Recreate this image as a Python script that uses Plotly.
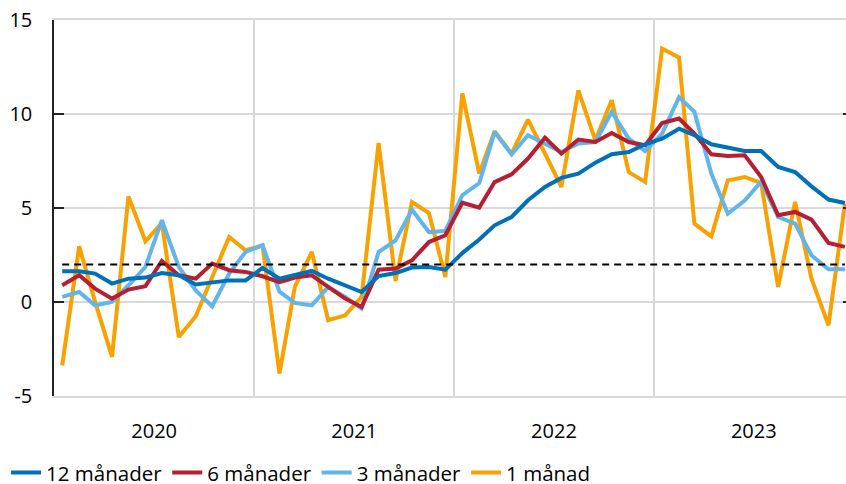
import pandas as pd
import plotly.graph_objects as go

months = pd.date_range("2020-01-01", periods=48, freq="MS") + pd.Timedelta(days=15)

m12 = [1.63, 1.63, 1.51, 0.98, 1.24, 1.30, 1.54, 1.42, 0.93, 1.06, 1.15, 1.15,
       1.81, 1.24, 1.42, 1.65, 1.24, 0.89, 0.53, 1.38, 1.54, 1.83, 1.86, 1.72,
       2.60, 3.32, 4.08, 4.52, 5.41, 6.12, 6.60, 6.83, 7.41, 7.86, 7.98, 8.39,
       8.69, 9.22, 8.87, 8.39, 8.19, 8.03, 8.03, 7.18, 6.91, 6.15, 5.45, 5.27]
m6 = [0.89, 1.42, 0.71, 0.18, 0.66, 0.84, 2.18, 1.42, 1.24, 2.04, 1.69, 1.60,
      1.37, 1.06, 1.30, 1.42, 0.80, 0.18, -0.27, 1.72, 1.78, 2.22, 3.19, 3.55,
      5.28, 5.02, 6.38, 6.79, 7.63, 8.74, 7.89, 8.64, 8.51, 8.99, 8.51, 8.34,
      9.52, 9.76, 8.96, 7.86, 7.77, 7.80, 6.65, 4.61, 4.79, 4.38, 3.14, 2.93]
m3 = [0.27, 0.53, -0.18, 0.00, 0.89, 1.86, 4.35, 1.86, 0.62, -0.23, 1.51, 2.66,
      3.02, 0.55, -0.05, -0.18, 0.80, 0.27, -0.35, 2.66, 3.28, 4.91, 3.72, 3.78,
      5.68, 6.33, 9.04, 7.86, 8.87, 8.43, 7.98, 8.43, 8.51, 10.11, 8.69, 8.03,
      8.96, 10.90, 10.11, 6.83, 4.70, 5.40, 6.40, 4.52, 4.17, 2.48, 1.74, 1.74]
m1 = [-3.37, 2.96, 0.02, -2.92, 5.61, 3.23, 4.20, -1.86, -0.76, 1.30, 3.46, 2.75,
      3.00, -3.80, 0.80, 2.66, -0.97, -0.71, 0.27, 8.46, 1.12, 5.32, 4.73, 1.33,
      11.10, 6.83, 9.08, 7.89, 9.70, 7.90, 6.12, 11.26, 8.60, 10.73, 6.91, 6.38,
      13.48, 13.00, 4.17, 3.49, 6.47, 6.65, 6.33, 0.80, 5.32, 1.24, -1.24, 5.23]
target = [2.0] * 48

names = ["12 månader", "6 månader", "3 månader", "1 månad"]
colors = ["#0070B8", "#B51F31", "#62B5EA", "#F8A100"]
series = [m12, m6, m3, m1]

y_ticks = [-5, 0, 5, 10, 15]
y_ticktext = ["-5", "0", "5", "10", "15"]

font = dict(family="Open Sans", size=20, color="#000000")
legend_font = dict(family="Open Sans", size=20.5, color="#000000")

fig = go.Figure()
# draw 1 månad first so 12 månader is on top
for rank in [3, 2, 1, 0]:
    fig.add_trace(go.Scatter(
        x=months, y=series[rank], name=names[rank], mode="lines",
        line=dict(color=colors[rank], width=4), legendrank=rank + 1,
        hoverinfo="skip"))
fig.add_trace(go.Scatter(
    x=months, y=target, mode="lines", yaxis="y2", showlegend=False,
    line=dict(color="#000000", width=2, dash="7px,5px"), hoverinfo="skip"))

fig.update_layout(
    width=846, height=484, autosize=False,
    margin=dict(l=54, r=0, t=20, b=88, autoexpand=False),
    paper_bgcolor="white", plot_bgcolor="white",
    font=font,
    showlegend=True,
    legend=dict(orientation="h", x=-0.0605, xanchor="left", y=-0.204,
                yanchor="middle", font=legend_font, itemwidth=30,
                bgcolor="rgba(0,0,0,0)"),
    xaxis=dict(type="date", range=["2020-01-01", "2023-12-18"],
               tick0="2020-01-01", dtick="M12", tickformat="%Y",
               ticklabelmode="period", showgrid=True, gridcolor="#D9D9D9",
               gridwidth=1.5, zeroline=False, showline=True,
               linecolor="#D9D9D9", linewidth=1.5, mirror=True, ticks="",
               ticklabelstandoff=16, automargin=False),
    yaxis=dict(range=[-5, 15], tickvals=y_ticks, ticktext=y_ticktext,
               showgrid=True, gridcolor="#D9D9D9", gridwidth=1.5,
               zeroline=False, showline=True, linecolor="#222222",
               linewidth=1.5, ticks="inside", ticklen=10, tickcolor="#222222",
               tickwidth=1.5, ticklabelstandoff=16, automargin=False,
               ticklabeloverflow="allow"),
    yaxis2=dict(range=[-5, 15], tickvals=y_ticks, overlaying="y",
                side="right", showticklabels=False, showgrid=False,
                zeroline=False, showline=False, ticks="inside", ticklen=3,
                tickcolor="#222222", tickwidth=1.5, automargin=False),
)

fig.write_html("out.html",
               config={"responsive": False, "displayModeBar": False},
               post_script="document.body.style.margin='0';")
